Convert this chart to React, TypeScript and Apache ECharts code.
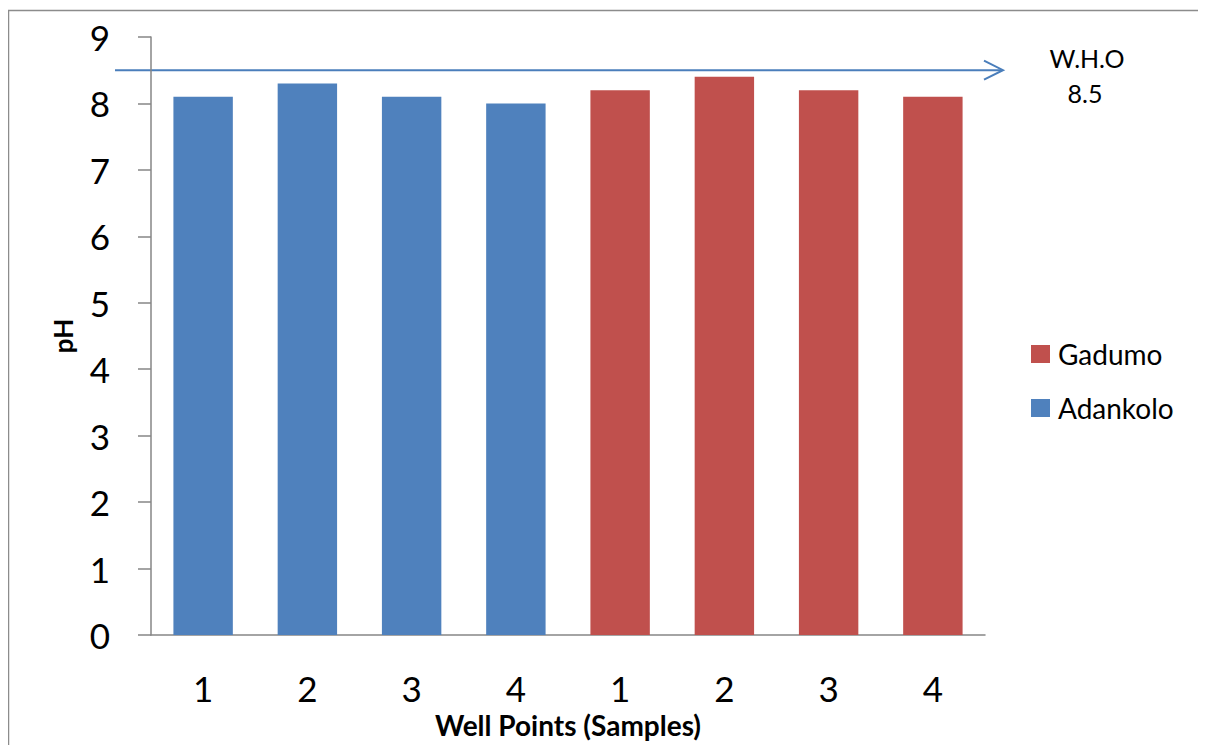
import React, { useEffect, useRef } from "react";
import * as echarts from "echarts";

// Well sample labels along the category axis
const wellLabels = ["1", "2", "3", "4", "1", "2", "3", "4"];
// pH readings per well
const adankoloPH = [8.1, 8.3, 8.1, 8.0, null, null, null, null];
const gadumoPH = [null, null, null, null, 8.2, 8.4, 8.2, 8.1];
// W.H.O guideline value for pH
const whoLimit = 8.5;
const yTicks = { min: 0, max: 9, interval: 1 };

const FONT = "Lato, 'Open Sans', sans-serif";

export default function App() {
  const ref = useRef<HTMLDivElement>(null);

  useEffect(() => {
    document.body.style.overflow = "hidden";
    const chart = echarts.init(ref.current!, null, { renderer: "svg" });
    chart.setOption({
      animation: false,
      grid: { left: 143, top: 29, right: 221, bottom: 110 },
      legend: {
        data: ["Gadumo", "Adankolo"],
        orient: "vertical",
        left: 1023,
        top: 330,
        padding: 0,
        itemWidth: 19,
        itemHeight: 18,
        itemGap: 22,
        icon: "rect",
        textStyle: {
          fontFamily: FONT,
          fontSize: 28,
          color: "#000",
          lineHeight: 32,
          padding: [0, 0, 0, 3],
        },
      },
      xAxis: {
        type: "category",
        data: wellLabels,
        name: "Well Points (Samples)",
        nameLocation: "middle",
        nameGap: 76,
        nameTextStyle: { fontFamily: FONT, fontSize: 28, fontWeight: "bold", color: "#000" },
        axisLine: { lineStyle: { color: "#868686", width: 1.5 } },
        axisTick: { show: false },
        axisLabel: { fontFamily: FONT, fontSize: 35, color: "#000", margin: 35 },
      },
      yAxis: {
        type: "value",
        min: yTicks.min,
        max: yTicks.max,
        interval: yTicks.interval,
        name: "pH",
        nameLocation: "middle",
        nameGap: 75,
        nameTextStyle: { fontFamily: FONT, fontSize: 26, fontWeight: "bold", color: "#000" },
        axisLine: { show: true, lineStyle: { color: "#868686", width: 1.5 } },
        axisTick: { show: true, length: 13, lineStyle: { color: "#868686", width: 1.5 } },
        splitLine: { show: false },
        axisLabel: { fontFamily: FONT, fontSize: 35, color: "#000", margin: 41 },
      },
      series: [
        {
          name: "Adankolo",
          type: "bar",
          stack: "wells",
          barWidth: "57%",
          data: adankoloPH,
          itemStyle: { color: "#4F81BD" },
        },
        {
          name: "Gadumo",
          type: "bar",
          stack: "wells",
          barWidth: "57%",
          data: gadumoPH,
          itemStyle: { color: "#C0504D" },
        },
      ],
    });

    // Guideline arrow drawn across the plot at the W.H.O value
    const y = chart.convertToPixel({ yAxisIndex: 0 }, whoLimit) as number;
    const lineStyle = { stroke: "#4A7EBB", lineWidth: 2, fill: "none" };
    chart.setOption({
      graphic: [
        {
          type: "rect",
          shape: { x: 0.5, y: 2.5, width: 1400, height: 900 },
          style: { fill: "none", stroke: "#8c8c8c", lineWidth: 1.5 },
          silent: true,
        },
        { type: "line", shape: { x1: 107, y1: y, x2: 994, y2: y }, style: lineStyle },
        {
          type: "polyline",
          shape: { points: [[976, y - 9.5], [995, y], [976, y + 9.5]] },
          style: lineStyle,
        },
        {
          type: "text",
          x: 1079,
          y: 50,
          style: {
            text: "W.H.O",
            fontFamily: FONT,
            fontSize: 25,
            fill: "#000",
            align: "center",
            verticalAlign: "middle",
          },
        },
        {
          type: "text",
          x: 1077,
          y: 85,
          style: {
            text: String(whoLimit),
            fontFamily: FONT,
            fontSize: 25,
            fill: "#000",
            align: "center",
            verticalAlign: "middle",
          },
        },
      ],
    });

    return () => chart.dispose();
  }, []);

  return <div ref={ref} style={{ width: 1198, height: 737 }} />;
}
